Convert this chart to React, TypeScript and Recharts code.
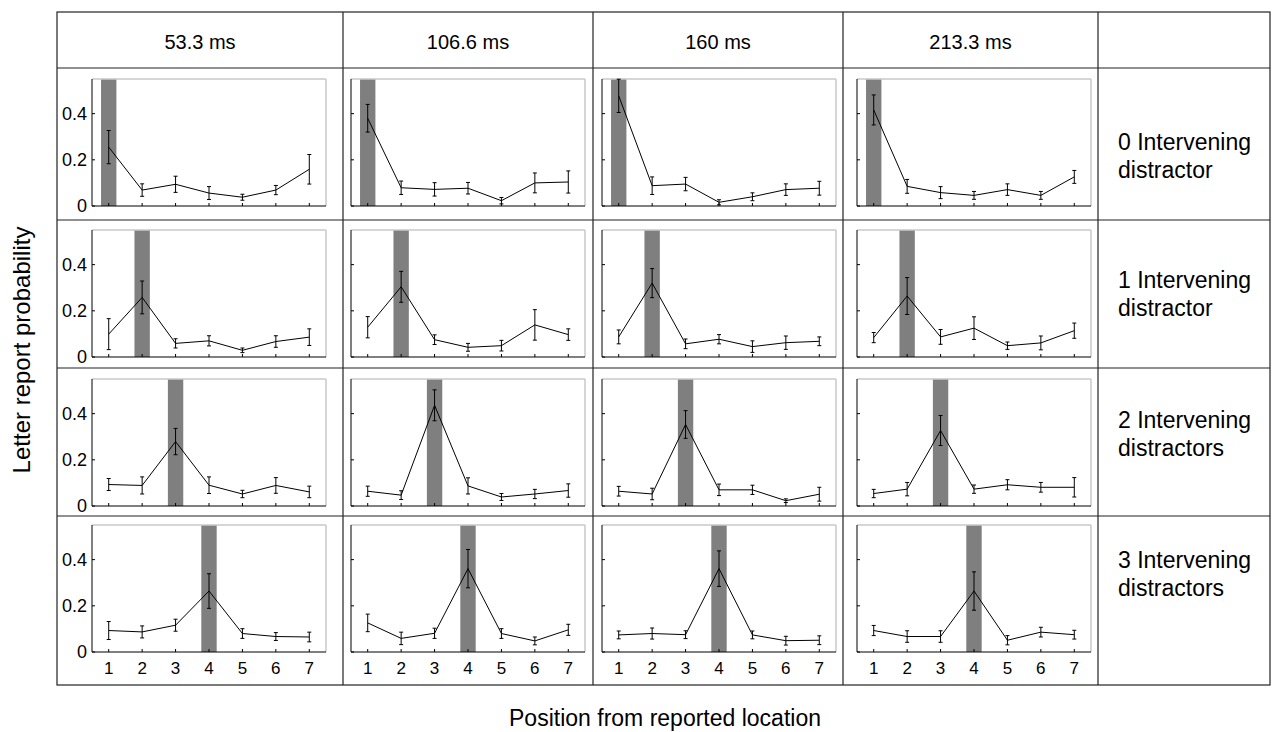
import React from "react";
import {
  LineChart,
  Line,
  XAxis,
  YAxis,
  ErrorBar,
  ReferenceArea,
  ReferenceLine,
} from "recharts";

const positions = [1, 2, 3, 4, 5, 6, 7];
const soaLabels = ["53.3 ms", "106.6 ms", "160 ms", "213.3 ms"];
const distractorLabels = [
  ["0 Intervening", "distractor"],
  ["1 Intervening", "distractor"],
  ["2 Intervening", "distractors"],
  ["3 Intervening", "distractors"],
];
const targetPositions = [1, 2, 3, 4];
const yTicks = [0, 0.2, 0.4];

// one array per row (intervening distractors), one inner list per SOA column
const mean0 = [
  [0.255, 0.069, 0.094, 0.056, 0.038, 0.069, 0.159],
  [0.38, 0.079, 0.072, 0.077, 0.023, 0.1, 0.104],
  [0.477, 0.088, 0.095, 0.016, 0.04, 0.071, 0.077],
  [0.416, 0.085, 0.058, 0.046, 0.071, 0.046, 0.126],
];
const err0 = [
  [0.072, 0.027, 0.035, 0.028, 0.013, 0.02, 0.064],
  [0.06, 0.029, 0.029, 0.025, 0.014, 0.043, 0.048],
  [0.072, 0.038, 0.029, 0.011, 0.017, 0.025, 0.03],
  [0.065, 0.03, 0.026, 0.017, 0.025, 0.017, 0.028],
];
const mean1 = [
  [0.099, 0.258, 0.059, 0.07, 0.029, 0.067, 0.086],
  [0.129, 0.304, 0.075, 0.042, 0.049, 0.139, 0.097],
  [0.087, 0.32, 0.057, 0.077, 0.045, 0.062, 0.068],
  [0.084, 0.264, 0.087, 0.125, 0.049, 0.061, 0.114],
];
const err1 = [
  [0.067, 0.071, 0.02, 0.022, 0.01, 0.025, 0.036],
  [0.046, 0.067, 0.021, 0.017, 0.023, 0.066, 0.025],
  [0.03, 0.063, 0.021, 0.02, 0.025, 0.029, 0.019],
  [0.022, 0.08, 0.032, 0.049, 0.016, 0.03, 0.033],
];
const mean2 = [
  [0.093, 0.089, 0.279, 0.09, 0.052, 0.089, 0.061],
  [0.064, 0.047, 0.436, 0.087, 0.039, 0.052, 0.067],
  [0.064, 0.052, 0.353, 0.07, 0.07, 0.023, 0.051],
  [0.054, 0.073, 0.327, 0.073, 0.092, 0.081, 0.081],
];
const err2 = [
  [0.026, 0.037, 0.057, 0.036, 0.016, 0.034, 0.025],
  [0.022, 0.019, 0.067, 0.035, 0.015, 0.02, 0.029],
  [0.021, 0.025, 0.06, 0.025, 0.02, 0.008, 0.03],
  [0.018, 0.029, 0.065, 0.018, 0.022, 0.021, 0.042],
];
const mean3 = [
  [0.093, 0.087, 0.116, 0.264, 0.08, 0.067, 0.065],
  [0.126, 0.059, 0.081, 0.361, 0.08, 0.048, 0.096],
  [0.074, 0.08, 0.075, 0.361, 0.074, 0.049, 0.051],
  [0.093, 0.067, 0.067, 0.264, 0.051, 0.086, 0.075],
];
const err3 = [
  [0.039, 0.026, 0.026, 0.075, 0.021, 0.017, 0.021],
  [0.038, 0.027, 0.022, 0.083, 0.021, 0.017, 0.024],
  [0.017, 0.024, 0.017, 0.077, 0.017, 0.019, 0.019],
  [0.022, 0.025, 0.025, 0.083, 0.02, 0.021, 0.019],
];

const means = [mean0, mean1, mean2, mean3];
const errs = [err0, err1, err2, err3];

const FONT = '"Liberation Sans", Arial, Helvetica, sans-serif';
const PLOT_W = 234;
const PLOT_H = 127;
const plotLeft = [92, 351, 602, 857];
const plotTop = [79, 230, 379, 525];
const colLines = [343, 593, 843, 1098];
const rowLines = [68, 220, 368, 516];
const Y_AXIS_W = 45;
const X_AXIS_H = 28;

function Panel({ row, col }: { row: number; col: number }) {
  const data = positions.map((pos, i) => ({
    pos,
    p: means[row][col][i],
    e: errs[row][col][i],
  }));
  const target = targetPositions[row];
  const showY = col === 0;
  const showX = row === 3;
  return (
    <div
      style={{
        position: "absolute",
        left: plotLeft[col] - Y_AXIS_W,
        top: plotTop[row] - 5,
      }}
    >
      <LineChart
        width={Y_AXIS_W + PLOT_W + 5}
        height={5 + PLOT_H + X_AXIS_H}
        data={data}
        margin={{ top: 5, right: 5, bottom: 0, left: 0 }}
      >
        <XAxis
          type="number"
          dataKey="pos"
          domain={[0.5, 7.5]}
          ticks={positions}
          allowDataOverflow
          height={X_AXIS_H}
          axisLine={{ stroke: "#000", strokeWidth: 1 }}
          tickLine={{ stroke: "#000" }}
          tickSize={-3}
          tickMargin={13}
          tick={{ fill: "#000", fontSize: 17, fontFamily: FONT }}
          tickFormatter={(v) => (showX ? String(v) : "")}
        />
        <YAxis
          type="number"
          domain={[0, 0.55]}
          ticks={yTicks}
          allowDataOverflow
          width={Y_AXIS_W}
          axisLine={{ stroke: "#000", strokeWidth: 1 }}
          tickLine={{ stroke: "#000" }}
          tickSize={-3}
          tickMargin={8}
          tick={{ fill: "#000", fontSize: 18, fontFamily: FONT }}
          tickFormatter={(v) => (showY ? (v === 0 ? "0" : v.toFixed(1)) : "")}
        />
        <ReferenceLine y={0.55} stroke="#c8c8c8" strokeWidth={1.5} />
        <ReferenceLine x={7.5} stroke="#c8c8c8" strokeWidth={1.5} />
        <ReferenceArea
          x1={target - 0.23}
          x2={target + 0.23}
          y1={0}
          y2={0.55}
          fill="#7f7f7f"
          fillOpacity={1}
          stroke="none"
        />
        <Line
          dataKey="p"
          stroke="#000"
          strokeWidth={1}
          dot={false}
          isAnimationActive={false}
        >
          <ErrorBar dataKey="e" width={2} stroke="#000" strokeWidth={1} />
        </Line>
      </LineChart>
    </div>
  );
}

export default function App() {
  const left = 57;
  const right = 1270;
  const top = 12;
  const bottom = 685;
  return (
    <div
      style={{
        position: "absolute",
        left: 0,
        top: 0,
        width: 1282,
        height: 732,
        background: "#fff",
        fontFamily: FONT,
        color: "#000",
        overflow: "hidden",
      }}
    >
      <svg
        width={1282}
        height={732}
        style={{ position: "absolute", left: 0, top: 0 }}
      >
        <rect
          x={left}
          y={top}
          width={right - left}
          height={bottom - top}
          fill="none"
          stroke="#222"
          strokeWidth={1.2}
        />
        {colLines.map((x) => (
          <line key={x} x1={x} x2={x} y1={top} y2={bottom} stroke="#222" strokeWidth={1.2} />
        ))}
        {rowLines.map((y) => (
          <line key={y} x1={left} x2={right} y1={y} y2={y} stroke="#222" strokeWidth={1.2} />
        ))}
      </svg>

      {soaLabels.map((label, c) => {
        const x0 = c === 0 ? left : colLines[c - 1];
        const x1 = colLines[c];
        return (
          <div
            key={label}
            style={{
              position: "absolute",
              left: x0,
              width: x1 - x0,
              top: 28,
              height: 28,
              lineHeight: "28px",
              textAlign: "center",
              fontSize: 20,
            }}
          >
            {label}
          </div>
        );
      })}

      {distractorLabels.map((lines, r) => {
        const centers = [156, 294, 434, 574];
        return (
          <div
            key={r}
            style={{
              position: "absolute",
              left: 1118,
              top: centers[r] - 28,
              fontSize: 23,
              lineHeight: "28px",
              whiteSpace: "nowrap",
            }}
          >
            <div>{lines[0]}</div>
            <div>{lines[1]}</div>
          </div>
        );
      })}

      {[0, 1, 2, 3].map((r) =>
        [0, 1, 2, 3].map((c) => <Panel key={`${r}-${c}`} row={r} col={c} />)
      )}

      <div
        style={{
          position: "absolute",
          left: 22,
          top: 350,
          transform: "translate(-50%, -50%) rotate(-90deg)",
          whiteSpace: "nowrap",
          fontSize: 24,
        }}
      >
        Letter report probability
      </div>
      <div
        style={{
          position: "absolute",
          left: 665,
          top: 718,
          transform: "translate(-50%, -50%)",
          whiteSpace: "nowrap",
          fontSize: 23,
        }}
      >
        Position from reported location
      </div>
    </div>
  );
}
